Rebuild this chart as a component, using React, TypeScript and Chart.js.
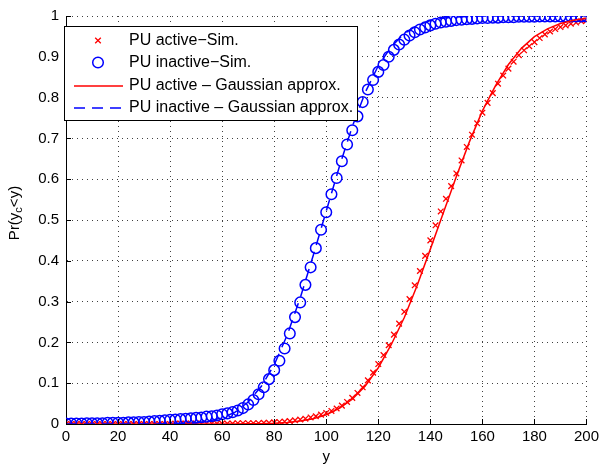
import React, { useEffect, useRef } from 'react';
import { Chart, registerables } from 'chart.js';

Chart.register(...registerables);

// ---- data ----
const SIM_X_STEP = 2;   // simulated points every 2 units of y (0..200)
const LINE_X_STEP = 5;  // Gaussian approximation sampled every 5 units (0..200)

const X_TICKS = [0, 20, 40, 60, 80, 100, 120, 140, 160, 180, 200];
const Y_TICKS = [0, 0.1, 0.2, 0.3, 0.4, 0.5, 0.6, 0.7, 0.8, 0.9, 1];
const Y_TICK_LABELS = ['0', '0.1', '0.2', '0.3', '0.4', '0.5', '0.6', '0.7', '0.8', '0.9', '1'];

const LEGEND_LABELS = [
  'PU active\u2212Sim.',
  'PU inactive\u2212Sim.',
  'PU active \u2013 Gaussian approx.',
  'PU inactive \u2013 Gaussian approx.',
];
const X_TITLE = 'y';

// PU active - simulation (x = 0,2,...,200)
const ACTIVE_SIM = [
  0, 0, 0, 0, 0, 0, 0, 0, 0, 0,
  0, 0, 0, 0, 0, 0, 0, 0, 0, 0,
  0, 0.001, 0.001, 0.001, 0.001, 0.001, 0.001, 0.001, 0.001, 0.001,
  0.001, 0.001, 0.001, 0.002, 0.002, 0.002, 0.002, 0.002, 0.003, 0.003,
  0.004, 0.005, 0.006, 0.007, 0.009, 0.011, 0.013, 0.016, 0.019, 0.023,
  0.027, 0.032, 0.038, 0.045, 0.054, 0.064, 0.076, 0.090, 0.107, 0.126,
  0.147, 0.169, 0.193, 0.219, 0.246, 0.275, 0.306, 0.340, 0.375, 0.412,
  0.450, 0.487, 0.521, 0.552, 0.583, 0.614, 0.646, 0.679, 0.709, 0.737,
  0.763, 0.787, 0.811, 0.834, 0.854, 0.871, 0.888, 0.904, 0.916, 0.926,
  0.936, 0.946, 0.955, 0.962, 0.968, 0.973, 0.977, 0.981, 0.984, 0.987,
  0.989,
];

// PU inactive - simulation (x = 0,2,...,200)
const INACTIVE_SIM = [
  0.001, 0.001, 0.001, 0.001, 0.002, 0.002, 0.002, 0.002, 0.003, 0.003,
  0.003, 0.003, 0.004, 0.004, 0.005, 0.005, 0.006, 0.007, 0.008, 0.009,
  0.010, 0.011, 0.012, 0.013, 0.014, 0.015, 0.016, 0.018, 0.019, 0.021,
  0.024, 0.026, 0.029, 0.033, 0.039, 0.048, 0.059, 0.073, 0.090, 0.110,
  0.132, 0.155, 0.185, 0.222, 0.262, 0.298, 0.341, 0.384, 0.431, 0.476,
  0.519, 0.563, 0.603, 0.644, 0.685, 0.720, 0.754, 0.789, 0.820, 0.843,
  0.863, 0.880, 0.900, 0.917, 0.930, 0.942, 0.952, 0.960, 0.967, 0.972,
  0.977, 0.981, 0.984, 0.986, 0.988, 0.990, 0.991, 0.992, 0.993, 0.994,
  0.995, 0.995, 0.996, 0.996, 0.997, 0.997, 0.997, 0.998, 0.998, 0.998,
  0.998, 0.999, 0.999, 0.999, 0.999, 0.999, 0.999, 0.999, 0.999, 0.999,
  0.999,
];

// PU active - Gaussian approximation (x = 0,5,...,200)
const ACTIVE_GAUSS = [
  0, 0, 0, 0, 0, 0, 0, 0, 0, 0,
  0, 0, 0.0001, 0.0002, 0.0004, 0.0008, 0.0018, 0.0037, 0.0071, 0.0129,
  0.0228, 0.0384, 0.0606, 0.0934, 0.1379, 0.1949, 0.2611, 0.3409, 0.4286, 0.518,
  0.6064, 0.6915, 0.7673, 0.8289, 0.881, 0.9207, 0.9495, 0.9686, 0.9817, 0.9898,
  0.9946,
];

// PU inactive - Gaussian approximation (x = 0,5,...,200)
const INACTIVE_GAUSS = [
  0, 0, 0, 0, 0, 0, 0.0001, 0.0002, 0.0005, 0.0013,
  0.0033, 0.0073, 0.015, 0.029, 0.054, 0.092, 0.145, 0.218, 0.309, 0.413,
  0.522, 0.63, 0.729, 0.813, 0.878, 0.925, 0.957, 0.977, 0.989, 0.995,
  0.9977, 0.999, 1, 1, 1, 1, 1, 1, 1, 1,
  1,
];

const FONT = '"Liberation Sans", Arial, Helvetica, sans-serif';
const RED = '#ff0000';
const BLUE = '#0000ff';

const overlayPlugin = {
  id: 'matlabOverlay',
  afterDraw(chart: any) {
    const { ctx, chartArea } = chart;
    const xs = chart.scales.x;
    const ys = chart.scales.y;
    ctx.save();
    // inward tick marks
    ctx.strokeStyle = '#000';
    ctx.lineWidth = 1;
    ctx.beginPath();
    X_TICKS.forEach((v) => {
      const px = Math.round(xs.getPixelForValue(v)) + 0.5;
      ctx.moveTo(px, chartArea.bottom);
      ctx.lineTo(px, chartArea.bottom - 5);
    });
    Y_TICKS.forEach((v) => {
      const py = Math.round(ys.getPixelForValue(v)) + 0.5;
      ctx.moveTo(chartArea.left, py);
      ctx.lineTo(chartArea.left + 5, py);
    });
    ctx.stroke();

    // legend box
    const bx = 64.5, by = 26.5, bw = 293, bh = 94;
    ctx.fillStyle = '#fff';
    ctx.fillRect(bx, by, bw, bh);
    ctx.strokeStyle = '#000';
    ctx.lineWidth = 1;
    ctx.strokeRect(bx, by, bw, bh);
    const rows = [40.5, 62.5, 86, 108];
    const symX = 98;
    // row 1: red x
    ctx.strokeStyle = RED;
    ctx.lineWidth = 1.3;
    ctx.beginPath();
    const r = 2.8;
    ctx.moveTo(symX - r, rows[0] - r); ctx.lineTo(symX + r, rows[0] + r);
    ctx.moveTo(symX - r, rows[0] + r); ctx.lineTo(symX + r, rows[0] - r);
    ctx.stroke();
    // row 2: blue circle
    ctx.strokeStyle = BLUE;
    ctx.lineWidth = 1.5;
    ctx.beginPath();
    ctx.arc(symX, rows[1], 5.3, 0, Math.PI * 2);
    ctx.stroke();
    // row 3: red line
    ctx.strokeStyle = RED;
    ctx.lineWidth = 1.5;
    ctx.beginPath();
    ctx.moveTo(74, rows[2]); ctx.lineTo(123, rows[2]);
    ctx.stroke();
    // row 4: blue dashed
    ctx.strokeStyle = BLUE;
    ctx.setLineDash([11, 7]);
    ctx.beginPath();
    ctx.moveTo(74, rows[3]); ctx.lineTo(123, rows[3]);
    ctx.stroke();
    ctx.setLineDash([]);
    // labels
    ctx.fillStyle = '#000';
    ctx.font = `16px ${FONT}`;
    ctx.textAlign = 'left';
    ctx.textBaseline = 'middle';
    LEGEND_LABELS.forEach((t, i) => ctx.fillText(t, 129, rows[i]));

    // y-axis title with subscript
    ctx.translate(15, 213);
    ctx.rotate(-Math.PI / 2);
    const parts = [
      { t: 'Pr(y', sub: false },
      { t: 'c', sub: true },
      { t: '<y)', sub: false },
    ];
    const fontFor = (sub: boolean) => (sub ? `11px ${FONT}` : `15px ${FONT}`);
    let total = 0;
    parts.forEach((p) => { ctx.font = fontFor(p.sub); total += ctx.measureText(p.t).width; });
    let cx = -total / 2;
    ctx.textAlign = 'left';
    parts.forEach((p) => {
      ctx.font = fontFor(p.sub);
      ctx.fillText(p.t, cx, p.sub ? 4 : 0);
      cx += ctx.measureText(p.t).width;
    });
    ctx.restore();
  },
};

export default function App() {
  const ref = useRef<HTMLCanvasElement>(null);
  useEffect(() => {
    if (!ref.current) return;
    const toPts = (arr: number[], step: number) => arr.map((v, i) => ({ x: i * step, y: v }));
    const gridStyle = { color: 'rgba(0,0,0,0.75)', lineWidth: 1, drawTicks: false };
    const chart = new Chart(ref.current, {
      type: 'scatter',
      data: {
        datasets: [
          {
            label: LEGEND_LABELS[0],
            data: toPts(ACTIVE_SIM, SIM_X_STEP),
            showLine: false,
            pointStyle: 'crossRot',
            pointRadius: 4,
            pointBorderWidth: 1.3,
            borderColor: RED,
            backgroundColor: RED,
            order: 3,
          },
          {
            label: LEGEND_LABELS[1],
            data: toPts(INACTIVE_SIM, SIM_X_STEP),
            showLine: false,
            pointStyle: 'circle',
            pointRadius: 5.3,
            pointBorderWidth: 1.5,
            borderColor: BLUE,
            backgroundColor: 'rgba(0,0,0,0)',
            order: 2,
          },
          {
            label: LEGEND_LABELS[2],
            data: toPts(ACTIVE_GAUSS, LINE_X_STEP),
            showLine: true,
            pointRadius: 0,
            borderColor: RED,
            borderWidth: 1.5,
            tension: 0,
            order: 1,
          },
          {
            label: LEGEND_LABELS[3],
            data: toPts(INACTIVE_GAUSS, LINE_X_STEP),
            showLine: true,
            pointRadius: 0,
            borderColor: BLUE,
            borderWidth: 1.5,
            borderDash: [11, 7],
            tension: 0,
            order: 0,
          },
        ],
      } as any,
      options: {
        animation: false,
        responsive: false,
        devicePixelRatio: 1,
        layout: { padding: { left: 0, top: 14, right: 16, bottom: 0 } },
        plugins: { legend: { display: false }, tooltip: { enabled: false } },
        scales: {
          x: {
            type: 'linear',
            min: 0,
            max: 200,
            afterBuildTicks: (s: any) => { s.ticks = X_TICKS.map((v) => ({ value: v })); },
            afterFit: (s: any) => { s.height = 42; },
            ticks: { color: '#000', font: { family: FONT, size: 15 }, padding: 4, maxRotation: 0, autoSkip: false },
            grid: gridStyle,
            border: { display: true, color: '#000', width: 1, dash: [1, 4] },
            title: { display: true, text: X_TITLE, color: '#000', font: { family: FONT, size: 15 }, padding: 0 },
          },
          y: {
            type: 'linear',
            min: 0,
            max: 1,
            afterBuildTicks: (s: any) => { s.ticks = Y_TICKS.map((v) => ({ value: v })); },
            afterFit: (s: any) => { s.width = 66; },
            ticks: {
              color: '#000',
              font: { family: FONT, size: 15 },
              padding: 7,
              autoSkip: false,
              callback: (_v: any, i: number) => Y_TICK_LABELS[i],
            },
            grid: gridStyle,
            border: { display: true, color: '#000', width: 1, dash: [1, 4] },
          },
        },
      } as any,
      plugins: [overlayPlugin],
    });
    return () => chart.destroy();
  }, []);
  return (
    <div style={{ position: 'fixed', left: 0, top: 0, width: 603, height: 466, background: '#fff' }}>
      <canvas ref={ref} width={603} height={466} style={{ display: 'block', width: 603, height: 466 }} />
    </div>
  );
}
